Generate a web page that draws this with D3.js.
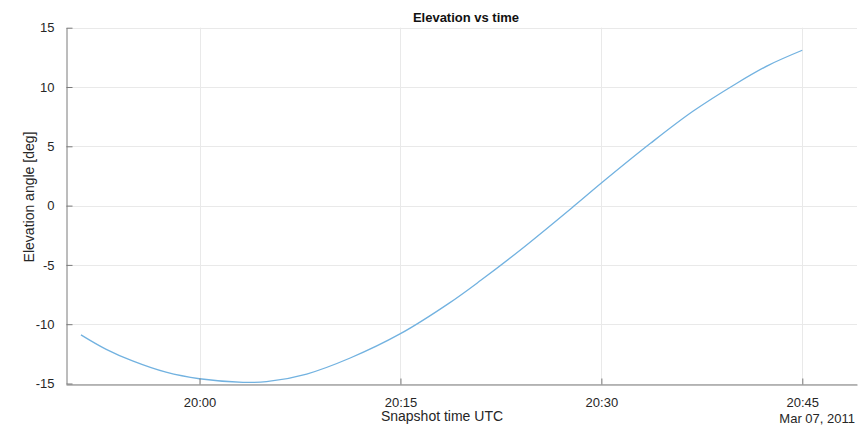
<!DOCTYPE html>
<html>
<head>
<meta charset="utf-8">
<script src="https://cdn.jsdelivr.net/npm/d3@7"></script>
<style>
  html, body { margin: 0; padding: 0; background: #fff; }
  svg { display: block; font-family: "Liberation Sans", Arial, Helvetica, sans-serif; }
</style>
</head>
<body>
<svg id="chart" width="859" height="429"></svg>
<script>
// Satellite elevation over one pass (UTC, 2011-03-07)
const snapshotTimes = [
  "19:51:09", "19:53:00", "19:55:00", "19:57:30", "20:00:00", "20:03:15",
  "20:05:00", "20:08:00", "20:11:15", "20:15:00", "20:18:40", "20:21:00",
  "20:24:00", "20:28:00", "20:30:00", "20:33:40", "20:36:50", "20:40:05",
  "20:42:30", "20:45:00"
];
const elevationDeg = [
  -10.9, -12.1, -13.1, -14.05, -14.6, -14.9,
  -14.85, -14.2, -12.85, -10.8, -8.2, -6.3,
  -3.7, 0.0, 1.9, 5.25, 7.95, 10.3,
  11.85, 13.1
];
const xTickTimes = ["20:00:00", "20:15:00", "20:30:00", "20:45:00"];
const yTicks = [-15, -10, -5, 0, 5, 10, 15];
const timeRange = ["19:50:02", "20:49:05"];
const dateLabel = "Mar 07, 2011";

const day = "2011-03-07T";
const parseT = s => new Date(day + s + "Z");

const svg = d3.select("#chart");
const margin = { left: 66, right: 2, top: 28, bottom: 46 };
const W = 859, H = 429;
const x0 = margin.left, x1 = W - margin.right;
const y0 = H - margin.bottom + 0.5, y1 = margin.top - 0.3;

const x = d3.scaleUtc().domain(timeRange.map(parseT)).range([x0, x1]);
const y = d3.scaleLinear().domain([-15, 15]).range([y0, y1]);

const textColor = "#262626";
const axisColor = "#7a7a7a";
const gridColor = "#e9e9e9";

// grid
const grid = svg.append("g");
grid.selectAll(".gx").data(xTickTimes.map(parseT)).join("line")
  .attr("x1", d => Math.round(x(d)) + 0.5).attr("x2", d => Math.round(x(d)) + 0.5)
  .attr("y1", y1).attr("y2", y0)
  .attr("stroke", gridColor).attr("stroke-width", 1);
grid.selectAll(".gy").data(yTicks).join("line")
  .attr("x1", x0).attr("x2", x1)
  .attr("y1", d => Math.round(y(d)) + 0.5).attr("y2", d => Math.round(y(d)) + 0.5)
  .attr("stroke", gridColor).attr("stroke-width", 1);

// elevation curve
const pts = snapshotTimes.map((t, i) => [parseT(t), elevationDeg[i]]);
const line = d3.line()
  .x(d => x(d[0])).y(d => y(d[1]))
  .curve(d3.curveCatmullRom.alpha(0.5));
svg.append("path").datum(pts)
  .attr("d", line)
  .attr("fill", "none")
  .attr("stroke", "#72b2e0")
  .attr("stroke-width", 1.3);

// axes (inward ticks)
const xAxis = d3.axisBottom(x)
  .tickValues(xTickTimes.map(parseT))
  .tickFormat(d3.utcFormat("%H:%M"))
  .tickSizeInner(-6).tickSizeOuter(0).tickPadding(13);
const gx = svg.append("g").attr("transform", `translate(0,${Math.round(y0) + 0.5})`).call(xAxis);
gx.select(".domain").attr("stroke", axisColor);
gx.selectAll(".tick line").attr("stroke", axisColor);
gx.selectAll(".tick text").attr("fill", textColor).attr("font-size", 13)
  .attr("font-family", "Liberation Sans, Arial, sans-serif");

const yAxis = d3.axisLeft(y)
  .tickValues(yTicks)
  .tickFormat(d => String(d))
  .tickSizeInner(-6).tickSizeOuter(0).tickPadding(12);
const gy = svg.append("g").attr("transform", `translate(${x0 + 0.5},0)`).call(yAxis);
gy.select(".domain").attr("stroke", axisColor);
gy.selectAll(".tick line").attr("stroke", axisColor);
gy.selectAll(".tick text").attr("fill", textColor).attr("font-size", 13)
  .attr("font-family", "Liberation Sans, Arial, sans-serif");

// date stamp under last tick
svg.append("text")
  .attr("x", 855).attr("y", 423)
  .attr("text-anchor", "end").attr("font-size", 13).attr("fill", textColor)
  .text(dateLabel);

// labels
svg.append("text")
  .attr("x", 442).attr("y", 421)
  .attr("text-anchor", "middle").attr("font-size", 14).attr("fill", textColor)
  .text("Snapshot time UTC");

svg.append("text")
  .attr("transform", "translate(34,197) rotate(-90)")
  .attr("text-anchor", "middle").attr("font-size", 14).attr("fill", textColor)
  .text("Elevation angle [deg]");

svg.append("text")
  .attr("x", 466).attr("y", 22)
  .attr("text-anchor", "middle").attr("font-size", 13).attr("font-weight", "bold")
  .attr("fill", "#111")
  .text("Elevation vs time");
</script>
</body>
</html>
